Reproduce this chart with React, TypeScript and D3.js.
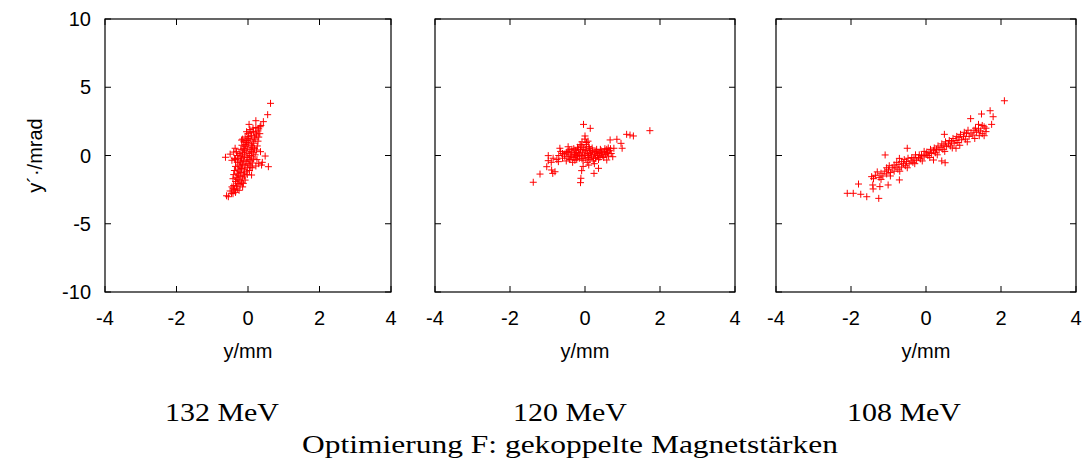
import React from "react";
import * as d3 from "d3";

const xTicks = [-4, -2, 0, 2, 4];
const yTicks = [-10, -5, 0, 5, 10];
const energies = ["132 MeV", "120 MeV", "108 MeV"];
const title = "Optimierung F: gekoppelte Magnetstärken";
const xLabel = "y/mm";
const yLabel = "y´·/mrad";

type P = [number, number];

const points132: P[] = [
  [0.63, 3.82], [0.55, 2.99], [0.43, 2.48], [0.22, 2.55], [0.03, 2.28], [0.34, 2.11],
  [-0.04, 1.74], [-0.18, 1.13], [-0.63, -0.13], [-0.38, -0.21], [-0.36, 0.53], [0.35, 0.28],
  [0.48, -0.04], [0.57, -0.82], [0.38, -0.7], [0.22, -0.77], [-0.55, -3.02], [-0.46, -2.77],
  [-0.41, -2.4], [-0.13, -2.04], [0.1, -1.43], [-0.32, 0.28], [-0.15, 1.2], [0.4, -0.5],
  [-0.6, -2.95], [-0.5, -2.6],
  [-0.42, -2.8], [-0.35, -2.7], [-0.38, -2.5], [-0.3, -2.45], [-0.25, -2.55],
  [-0.4, -2.2], [-0.32, -2.25], [-0.22, -2.15], [-0.28, -2.05],
  [-0.35, -1.9], [-0.25, -1.85], [-0.18, -1.95], [-0.3, -1.75],
  [-0.33, -1.6], [-0.22, -1.55], [-0.15, -1.65], [-0.27, -1.45], [-0.1, -1.5],
  [-0.3, -1.3], [-0.2, -1.25], [-0.12, -1.35], [-0.05, -1.2], [-0.25, -1.15],
  [-0.28, -1.0], [-0.18, -0.95], [-0.1, -1.05], [-0.02, -0.9], [-0.22, -0.85],
  [-0.25, -0.7], [-0.15, -0.65], [-0.08, -0.75], [0.0, -0.6], [-0.2, -0.55], [0.05, -0.7],
  [-0.22, -0.4], [-0.12, -0.35], [-0.05, -0.45], [0.03, -0.3], [-0.18, -0.25], [0.08, -0.4],
  [-0.2, -0.1], [-0.1, -0.05], [-0.02, -0.15], [0.05, 0.0], [-0.15, 0.05], [0.1, -0.1],
  [-0.15, 0.2], [-0.05, 0.25], [0.03, 0.15], [0.1, 0.3], [-0.1, 0.35], [0.15, 0.2],
  [-0.12, 0.5], [-0.02, 0.55], [0.06, 0.45], [0.13, 0.6], [-0.08, 0.65], [0.18, 0.5],
  [-0.08, 0.8], [0.02, 0.85], [0.1, 0.75], [0.16, 0.9], [-0.04, 0.95],
  [-0.03, 1.1], [0.06, 1.15], [0.14, 1.05], [0.2, 1.2], [0.0, 1.25],
  [0.02, 1.4], [0.1, 1.45], [0.18, 1.35], [0.24, 1.5],
  [0.08, 1.7], [0.15, 1.75], [0.22, 1.65], [0.28, 1.8],
  [0.14, 2.0], [0.22, 2.05], [0.3, 1.95],
  [-0.3, 0.0], [-0.35, -0.3], [0.25, -0.3], [0.3, -0.6], [0.12, -0.9],
  [-0.45, -2.3], [-0.15, -2.3], [-0.42, -1.7], [-0.08, -1.8], [-0.4, -1.4], [-0.02, -1.4],
  [-0.38, -1.1], [0.04, -1.1], [-0.35, -0.8], [0.08, -0.85], [-0.3, -0.5], [0.12, -0.55],
  [-0.28, -0.2], [0.15, -0.25], [-0.25, 0.15], [0.2, 0.05], [-0.2, 0.45], [0.24, 0.4],
  [-0.17, 0.75], [0.26, 0.7], [-0.12, 1.0], [0.28, 1.05], [-0.08, 1.35], [0.3, 1.35],
  [0.0, 1.6], [0.33, 1.6], [0.05, 1.9], [0.36, 2.2], [-0.5, 0.1], [-0.45, -0.35], [-0.4, 0.25],
];

const points120: P[] = [
  [-1.38, -1.96], [-1.2, -1.36], [-0.98, -0.01], [-0.98, -0.38], [-1.02, -0.82], [-0.89, -1.06],
  [-0.8, -1.19], [-0.86, -1.31], [-0.67, 0.53], [-0.71, -0.45], [-0.45, 0.64], [-0.04, 2.28],
  [0.14, 1.99], [0.0, 1.43], [-0.09, -1.11], [-0.11, -1.67], [-0.12, -1.99], [0.24, -1.31],
  [0.36, -0.94], [0.67, 1.14], [0.85, 1.19], [0.96, 0.89], [0.99, 0.53], [0.77, 0.53],
  [1.11, 1.55], [1.29, 1.43], [1.2, 1.5], [1.73, 1.82], [0.74, -0.09], [0.58, -0.33],
  [-0.6, -0.2], [-0.55, 0.1], [-0.5, -0.4], [-0.48, 0.25], [-0.45, -0.1], [-0.42, 0.4],
  [-0.4, -0.3], [-0.38, 0.05], [-0.35, 0.2], [-0.33, -0.5], [-0.3, 0.5], [-0.3, -0.15],
  [-0.28, 0.1], [-0.25, 0.35], [-0.22, -0.3], [-0.2, 0.0], [-0.2, 0.6], [-0.18, 0.2],
  [-0.15, -0.2], [-0.13, 0.8], [-0.12, 0.4], [-0.1, -0.05], [-0.08, 1.0], [-0.07, 0.25],
  [-0.05, -0.35], [-0.03, 0.6], [0.0, 1.2], [0.0, 0.1], [0.02, -0.2], [0.03, 0.8],
  [0.05, 0.35], [0.06, -0.5], [0.08, 1.05], [0.1, 0.0], [0.12, 0.5], [0.13, -0.3],
  [0.15, 0.2], [0.18, -0.1], [0.2, 0.35], [0.22, -0.4], [0.25, 0.1], [0.28, -0.2],
  [0.3, 0.3], [0.33, 0.0], [0.36, -0.3], [0.38, 0.2], [0.4, -0.1], [0.43, 0.35],
  [0.46, 0.05], [0.5, -0.15], [0.52, 0.3], [0.55, 0.1], [0.58, 0.45], [0.6, 0.2],
  [0.63, -0.05], [0.66, 0.35], [0.7, 0.15], [0.1, -0.7], [-0.05, -0.8], [0.25, -0.6],
  [-0.7, 0.0], [-0.75, -0.3], [-0.65, 0.3],
  [-0.55, -0.05], [-0.5, 0.2], [-0.45, 0.3], [-0.42, -0.25], [-0.37, -0.05], [-0.35, 0.45],
  [-0.27, -0.35], [-0.25, -0.05], [-0.23, 0.2], [-0.17, 0.45], [-0.15, 0.1], [-0.1, 0.7],
  [-0.08, -0.25], [-0.05, 0.45], [-0.02, 0.0], [0.02, 0.4], [0.04, 0.95], [0.07, 0.15],
  [0.09, -0.15], [0.1, 0.65], [0.14, 0.35], [0.17, 0.05], [0.19, 0.55], [0.23, -0.2],
  [0.27, 0.25], [0.31, 0.45], [0.34, 0.15], [0.37, -0.15], [0.41, 0.45], [0.44, 0.2],
  [0.48, -0.05], [0.53, 0.5], [0.57, 0.25], [0.62, 0.55], [0.68, 0.5], [-0.9, -0.5],
  [-0.85, -0.2], [-0.6, 0.15],
];

const points108: P[] = [
  [2.09, 4.01], [1.71, 3.28], [1.79, 2.84], [1.48, 3.04], [1.19, 2.7], [1.75, 2.28],
  [1.4, 2.28], [1.5, 2.2], [0.49, 1.55], [-1.09, 0.04], [-0.5, 0.53], [-0.71, -0.21],
  [0.51, -0.53], [0.42, -0.4], [0.2, -0.33], [0.8, 0.53],
  [-2.1, -2.77], [-1.94, -2.77], [-1.74, -2.84], [-1.58, -3.02], [-1.26, -3.14],
  [-1.8, -2.09], [-1.42, -2.16], [-1.41, -2.45], [-1.23, -2.28], [-1.01, -2.16],
  [-0.71, -1.79], [-1.45, -1.55],
  [-1.4, -1.7], [-1.35, -1.45],
  [-1.25, -1.6], [-1.2, -1.3], [-1.15, -1.5], [-1.1, -1.15],
  [-1.05, -1.35], [-1.0, -1.05], [-0.95, -1.25], [-0.9, -0.9], [-0.98, -0.75],
  [-0.85, -1.15], [-0.8, -0.85], [-0.75, -1.0], [-0.72, -0.65], [-0.78, -0.5],
  [-0.65, -0.85], [-0.6, -0.6], [-0.55, -0.75], [-0.52, -0.45], [-0.58, -0.3],
  [-0.45, -0.6], [-0.4, -0.4], [-0.35, -0.5], [-0.32, -0.25], [-0.38, -0.15],
  [-0.25, -0.35], [-0.2, -0.15], [-0.15, -0.25], [-0.12, 0.0], [-0.18, 0.05],
  [-0.05, -0.1], [0.0, 0.1], [0.05, 0.0], [0.08, 0.2], [0.02, 0.25],
  [0.15, 0.15], [0.2, 0.35], [0.25, 0.2], [0.28, 0.45], [0.22, 0.55],
  [0.35, 0.4], [0.4, 0.6], [0.45, 0.45], [0.48, 0.75], [0.42, 0.85],
  [0.55, 0.65], [0.6, 0.85], [0.65, 0.7], [0.68, 1.0], [0.62, 1.1],
  [0.75, 0.9], [0.8, 1.1], [0.85, 0.95], [0.88, 1.3], [0.82, 1.4],
  [0.95, 1.15], [1.0, 1.4], [1.05, 1.2], [1.08, 1.6], [1.02, 1.7],
  [1.15, 1.4], [1.2, 1.65], [1.25, 1.5], [1.28, 1.85],
  [1.35, 1.7], [1.4, 1.95], [1.45, 1.8], [1.5, 1.6],
  [1.6, 2.0], [1.55, 1.45],
  [-1.3, -1.2], [-1.2, -1.75], [-1.05, -0.9], [-0.95, -1.5], [-0.85, -0.7], [-0.7, -1.15],
  [-0.65, -0.45], [-0.5, -0.9], [-0.48, -0.2], [-0.3, -0.6], [-0.28, 0.05], [-0.1, -0.4],
  [-0.05, 0.3], [0.1, -0.15], [0.12, 0.45], [0.3, 0.05], [0.32, 0.7], [0.5, 0.3],
  [0.52, 1.0], [0.7, 0.55], [0.72, 1.25], [0.9, 0.75], [0.92, 1.55], [1.1, 1.0],
  [1.12, 1.85], [1.3, 1.25], [1.32, 2.0], [1.42, 1.45], [1.55, 2.1], [1.6, 1.75],
];

const series = [points132, points120, points108];

// layout
const panels = [
  { left: 105, right: 391 },
  { left: 435, right: 735 },
  { left: 776, right: 1076 },
];
const energyCenters = [222, 570, 904];
const top = 19;
const bottom = 292;
const tickLen = 6;
const sans = "'Liberation Sans', Arial, Helvetica, sans-serif";
const serif = "'Liberation Serif', 'Times New Roman', serif";

export default function App() {
  const y = d3.scaleLinear().domain([-10, 10]).range([bottom, top]);
  return (
    <svg
      width={1089}
      height={467}
      style={{ position: "absolute", left: 0, top: 0, background: "#fff" }}
    >
      <rect x={0} y={0} width={1089} height={467} fill="#fff" />
      {panels.map((p, i) => {
        const x = d3.scaleLinear().domain([-4, 4]).range([p.left, p.right]);
        const pts = series[i];
        return (
          <g key={i}>
            {pts.map(([px, py], j) => {
              const cx = x(px);
              const cy = y(py);
              return (
                <path
                  key={j}
                  d={`M${cx - 3.5},${cy}H${cx + 3.5}M${cx},${cy - 3.5}V${cy + 3.5}`}
                  stroke="#ff0000"
                  strokeWidth={1}
                  fill="none"
                />
              );
            })}
            <rect
              x={p.left}
              y={top}
              width={p.right - p.left}
              height={bottom - top}
              fill="none"
              stroke="#000"
              strokeWidth={1.2}
            />
            {xTicks.map((t) => (
              <g key={"x" + t}>
                <line x1={x(t)} x2={x(t)} y1={bottom} y2={bottom - tickLen} stroke="#000" strokeWidth={1} />
                <line x1={x(t)} x2={x(t)} y1={top} y2={top + tickLen} stroke="#000" strokeWidth={1} />
                <text
                  x={x(t)}
                  y={325}
                  textAnchor="middle"
                  fontFamily={sans}
                  fontSize={20}
                  fill="#000"
                >
                  {t}
                </text>
              </g>
            ))}
            {yTicks.map((t) => (
              <g key={"y" + t}>
                <line x1={p.left} x2={p.left + tickLen} y1={y(t)} y2={y(t)} stroke="#000" strokeWidth={1} />
                <line x1={p.right} x2={p.right - tickLen} y1={y(t)} y2={y(t)} stroke="#000" strokeWidth={1} />
              </g>
            ))}
            <text
              x={(p.left + p.right) / 2}
              y={358}
              textAnchor="middle"
              fontFamily={sans}
              fontSize={20}
              fill="#000"
            >
              {xLabel}
            </text>
            <text
              x={energyCenters[i]}
              y={421}
              textAnchor="middle"
              fontFamily={serif}
              fontSize={26}
              textLength={114}
              lengthAdjust="spacingAndGlyphs"
              fill="#000"
            >
              {energies[i]}
            </text>
          </g>
        );
      })}
      {yTicks.map((t) => (
        <text
          key={"yl" + t}
          x={91}
          y={y(t) + 7}
          textAnchor="end"
          fontFamily={sans}
          fontSize={20}
          fill="#000"
        >
          {t}
        </text>
      ))}
      <text
        transform={`translate(42,${y(0)}) rotate(-90)`}
        textAnchor="middle"
        fontFamily={sans}
        fontSize={20}
        fill="#000"
      >
        {yLabel}
      </text>
      <text
        x={570}
        y={453}
        textAnchor="middle"
        fontFamily={serif}
        fontSize={26}
        textLength={536}
        lengthAdjust="spacingAndGlyphs"
        fill="#000"
      >
        {title}
      </text>
    </svg>
  );
}
